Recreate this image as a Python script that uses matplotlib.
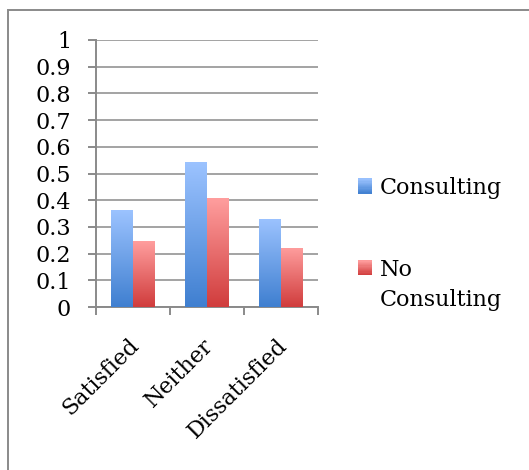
import matplotlib.pyplot as plt
import matplotlib.transforms as mtransforms
import numpy as np
from matplotlib.colors import LinearSegmentedColormap
from matplotlib.legend_handler import HandlerPatch
from matplotlib.patches import Rectangle

categories = ["Satisfied", "Neither", "Dissatisfied"]
consulting = [0.363, 0.543, 0.330]
no_consulting = [0.247, 0.408, 0.221]
series_labels = ["Consulting", "No\nConsulting"]
yticks = [0, 0.1, 0.2, 0.3, 0.4, 0.5, 0.6, 0.7, 0.8, 0.9, 1]

GRAY = "#8a8a8a"
BLUE = ("#3f7fd0", "#9cc3ff")   # bottom, top
RED = ("#d03c3c", "#ff9e9e")

plt.rcParams["font.family"] = ["DejaVu Serif"]
plt.rcParams["font.size"] = 16

fig = plt.figure(figsize=(5.29, 4.70), dpi=100)
ax = fig.add_axes([0.1815, 0.3468, 0.4197, 0.5681])

# outer chart frame
fig.patches.append(Rectangle((8 / 529, -0.05), 1.2, 1 - 10 / 470 + 0.05,
                             transform=fig.transFigure, fill=False,
                             edgecolor=GRAY, linewidth=1.4))

x = np.arange(len(categories))
width = 0.293


def gradient_bars(xs, vals, colors):
    bars = ax.bar(xs, vals, width=width, facecolor="none", edgecolor="none", zorder=3)
    cmap = LinearSegmentedColormap.from_list("g", list(colors))
    grad = np.linspace(0, 1, 256).reshape(-1, 1)
    for b in bars:
        x0, y0 = b.get_x(), b.get_y()
        im = ax.imshow(grad, cmap=cmap, origin="lower", aspect="auto",
                       extent=[x0, x0 + b.get_width(), y0, y0 + b.get_height()],
                       zorder=3, interpolation="bilinear")
        im.set_clip_path(b)
    return bars


gradient_bars(x - width / 2, consulting, BLUE)
gradient_bars(x + width / 2, no_consulting, RED)

ax.set_xlim(-0.5, len(categories) - 0.5)
ax.set_ylim(0, 1)
ax.set_yticks(yticks)
ax.set_yticklabels([f"{v:g}" for v in yticks])
ax.yaxis.grid(True, color=GRAY, linewidth=1.1)
ax.set_axisbelow(True)

ax.set_xticks(np.arange(-0.5, len(categories)), minor=False)
ax.set_xticklabels([])
ax.set_xticks(x, minor=True)
ax.set_xticklabels(categories, minor=True, rotation=45, ha="right", va="top",
                   rotation_mode="anchor")
ax.tick_params(axis="x", which="minor", length=0, pad=20)
ax.tick_params(axis="x", which="major", length=6, width=1.4, color=GRAY, direction="out")
ax.tick_params(axis="y", length=6, width=1.4, color=GRAY, direction="out", pad=12)
nudge = mtransforms.ScaledTranslation(-5 / 100, 0, fig.dpi_scale_trans)
for lbl in ax.get_xticklabels(minor=True):
    lbl.set_transform(lbl.get_transform() + nudge)

for side in ("top", "right"):
    ax.spines[side].set_visible(False)
for side in ("left", "bottom"):
    ax.spines[side].set_color(GRAY)
    ax.spines[side].set_linewidth(1.4)


class GradientSquare(HandlerPatch):
    """Legend square with a vertical gradient, optionally raised to the first text line."""

    def __init__(self, colors, shift=0.0):
        super().__init__()
        self.colors = colors
        self.shift = shift

    def create_artists(self, legend, orig_handle, xdescent, ydescent,
                       width, height, fontsize, trans):
        cmap = LinearSegmentedColormap.from_list("g", list(self.colors))
        n = 12
        arts = []
        for i in range(n):
            r = Rectangle((-xdescent, -ydescent + self.shift * fontsize + height * i / n),
                          width, height / n + 0.3, facecolor=cmap((i + 0.5) / n),
                          edgecolor="none", transform=trans)
            arts.append(r)
        return arts


h1 = Rectangle((0, 0), 1, 1)
h2 = Rectangle((0, 0), 1, 1)
leg = ax.legend([h1, h2], series_labels, loc="upper left", bbox_to_anchor=(1.14, 0.52),
                frameon=False, handlelength=0.65, handleheight=0.65, handletextpad=0.35,
                labelspacing=2.7, borderaxespad=0,
                handler_map={h1: GradientSquare(BLUE), h2: GradientSquare(RED, shift=0.8)})
for t in leg.get_texts():
    t.set_linespacing(1.45)

fig.savefig("out.png", dpi=100)
